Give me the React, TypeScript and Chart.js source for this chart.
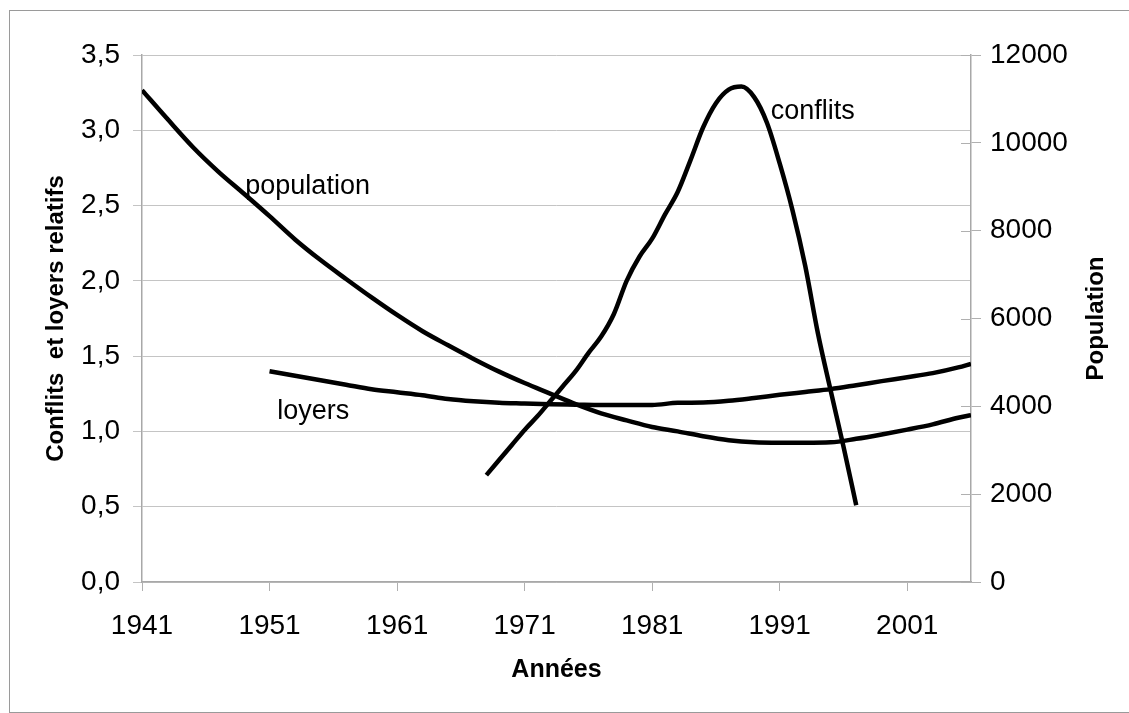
import React, { useEffect, useRef } from "react";
import { Chart, registerables } from "chart.js";

Chart.register(...registerables);

// ---- Data ----
const yearTicks = [1941, 1951, 1961, 1971, 1981, 1991, 2001];
const yearMin = 1941;
const yearMax = 2006;

// Population (right axis)
const populationYears = [
  1941, 1943, 1945, 1947, 1949, 1951, 1953, 1955, 1957, 1959, 1961, 1963, 1965,
  1967, 1969, 1971, 1973, 1975, 1977, 1979, 1981, 1983, 1985, 1987, 1989, 1991,
  1993, 1995, 1997, 1999, 2001, 2003, 2005, 2006,
];
const populationValues = [
  11200, 10540, 9900, 9340, 8840, 8330, 7800, 7330, 6900, 6480, 6080, 5710, 5390,
  5080, 4790, 4530, 4290, 4050, 3840, 3680, 3530, 3430, 3320, 3230, 3180, 3170,
  3170, 3180, 3260, 3360, 3470, 3590, 3740, 3800,
];

// Loyers relatifs (left axis)
const loyersYears = [
  1951, 1953, 1955, 1957, 1959, 1961, 1963, 1965, 1967, 1969, 1971, 1973, 1975,
  1977, 1979, 1981, 1983, 1985, 1987, 1989, 1991, 1993, 1995, 1997, 1999, 2001,
  2003, 2005, 2006,
];
const loyersValues = [
  1.4, 1.37, 1.34, 1.31, 1.28, 1.26, 1.24, 1.215, 1.2, 1.19, 1.185, 1.18, 1.178,
  1.176, 1.176, 1.176, 1.19, 1.192, 1.203, 1.222, 1.243, 1.262, 1.281, 1.307,
  1.334, 1.36, 1.387, 1.425, 1.449,
];

// Conflits relatifs (left axis)
const conflitsYears = [
  1968, 1969, 1970, 1971, 1972, 1973, 1974, 1975, 1976, 1977, 1978, 1979, 1980,
  1981, 1982, 1983, 1984, 1985, 1986, 1987, 1988, 1989, 1990, 1991, 1992, 1993,
  1994, 1995, 1996, 1997,
];
const conflitsValues = [
  0.71, 0.81, 0.91, 1.01, 1.1, 1.2, 1.3, 1.4, 1.52, 1.63, 1.78, 2.0, 2.16, 2.28,
  2.44, 2.59, 2.8, 3.02, 3.18, 3.27, 3.29, 3.22, 3.05, 2.78, 2.47, 2.1, 1.65,
  1.27, 0.9, 0.51,
];

// In-chart series labels (anchored in data space: year, left-axis value)
const labelTexts = ["population", "loyers", "conflits"];
const labelYears = [1949.1, 1951.6, 1990.3];
const labelValues = [2.577, 1.083, 3.075];

const leftTitle = "Conflits  et loyers relatifs";
const rightTitle = "Population";
const xTitle = "Années";

const FONT = '"Liberation Sans", Arial, sans-serif';

const toPoints = (xs: number[], ys: number[]) => xs.map((x, i) => ({ x, y: ys[i] }));

const labelPlugin = {
  id: "seriesLabels",
  afterDatasetsDraw(chart: any) {
    const { ctx, scales, chartArea } = chart;
    const x = scales.x;
    const y = scales.y;
    const y2 = scales.y2;
    ctx.save();
    // inner half of the crossing tick marks on the right axis
    ctx.strokeStyle = "#b0b0b0";
    ctx.lineWidth = 1;
    y2.ticks.forEach((t: any) => {
      const py = Math.round(y2.getPixelForValue(t.value)) + 0.5;
      ctx.beginPath();
      ctx.moveTo(chartArea.right - 10, py);
      ctx.lineTo(chartArea.right, py);
      ctx.stroke();
    });
    ctx.fillStyle = "#000";
    ctx.font = `27px ${FONT}`;
    ctx.textAlign = "left";
    ctx.textBaseline = "alphabetic";
    labelTexts.forEach((t, i) => {
      ctx.fillText(t, x.getPixelForValue(labelYears[i]), y.getPixelForValue(labelValues[i]));
    });
    ctx.font = `bold 24px ${FONT}`;
    ctx.translate(y2.right - 26, (chartArea.top + chartArea.bottom) / 2);
    ctx.rotate(-Math.PI / 2);
    ctx.textAlign = "center";
    ctx.fillText(rightTitle, 0, 0);
    ctx.restore();
  },
};

export default function App() {
  const ref = useRef<HTMLCanvasElement | null>(null);

  useEffect(() => {
    if (!ref.current) return;
    const lineStyle = {
      borderColor: "#000",
      backgroundColor: "#000",
      borderWidth: 4.5,
      pointRadius: 0,
      fill: false,
      cubicInterpolationMode: "monotone" as const,
    };
    const tickFont = { family: FONT, size: 28 };
    const titleFont = { family: FONT, size: 24, weight: "bold" as const, lineHeight: 1.25 };
    const chart = new Chart(ref.current, {
      type: "line",
      data: {
        datasets: [
          { label: "population", data: toPoints(populationYears, populationValues), yAxisID: "y2", ...lineStyle },
          { label: "loyers", data: toPoints(loyersYears, loyersValues), yAxisID: "y", ...lineStyle },
          { label: "conflits", data: toPoints(conflitsYears, conflitsValues), yAxisID: "y", ...lineStyle },
        ],
      },
      options: {
        animation: false,
        responsive: false,
        devicePixelRatio: 1,
        layout: { padding: { top: 55, left: 0, right: 0, bottom: 0 } },
        plugins: { legend: { display: false }, tooltip: { enabled: false } },
        scales: {
          x: {
            type: "linear",
            min: yearMin,
            max: yearMax,
            afterBuildTicks: (s: any) => {
              s.ticks = yearTicks.map((v) => ({ value: v }));
            },
            afterFit: (s: any) => {
              s.height = 131;
            },
            ticks: {
              font: tickFont,
              color: "#000",
              padding: 18,
              maxRotation: 0,
              autoSkip: false,
              callback: (v: any) => String(v),
            },
            grid: { drawOnChartArea: false, drawTicks: true, tickLength: 9, color: "#b0b0b0" },
            border: { color: "#a8a8a8", width: 1.5 },
            title: {
              display: true,
              text: xTitle,
              color: "#000",
              font: { ...titleFont, size: 25 },
              padding: { top: 0, bottom: 27 },
            },
          },
          y: {
            position: "left",
            min: 0,
            max: 3.5,
            afterFit: (s: any) => {
              s.width = 142;
            },
            ticks: {
              stepSize: 0.5,
              font: tickFont,
              color: "#000",
              padding: 13,
              callback: (v: any) => Number(v).toFixed(1).replace(".", ","),
            },
            grid: { color: "#c4c4c4", tickLength: 9, lineWidth: 1 },
            border: { color: "#a8a8a8", width: 1.5 },
            title: {
              display: true,
              text: leftTitle,
              color: "#000",
              font: titleFont,
              padding: { top: 41, bottom: 0 },
            },
          },
          y2: {
            position: "right",
            min: 0,
            max: 12000,
            afterFit: (s: any) => {
              s.width = 158;
            },
            ticks: {
              stepSize: 2000,
              font: tickFont,
              color: "#000",
              padding: 9,
              callback: (v: any) => String(v),
            },
            grid: { drawOnChartArea: false, tickLength: 10, color: "#b0b0b0" },
            border: { color: "#a8a8a8", width: 1.5 },
          },
        },
      },
      plugins: [labelPlugin],
    });
    return () => chart.destroy();
  }, []);

  return (
    <>
      <div
        style={{
          position: "fixed",
          left: 9,
          top: 10,
          width: 1120,
          height: 703,
          boxSizing: "border-box",
          borderLeft: "1px solid #9a9a9a",
          borderTop: "1px solid #9a9a9a",
          borderBottom: "1px solid #9a9a9a",
          background: "#fff",
        }}
      />
      <canvas
        ref={ref}
        width={1129}
        height={713}
        style={{ position: "fixed", left: 0, top: 0, width: 1129, height: 713 }}
      />
    </>
  );
}
